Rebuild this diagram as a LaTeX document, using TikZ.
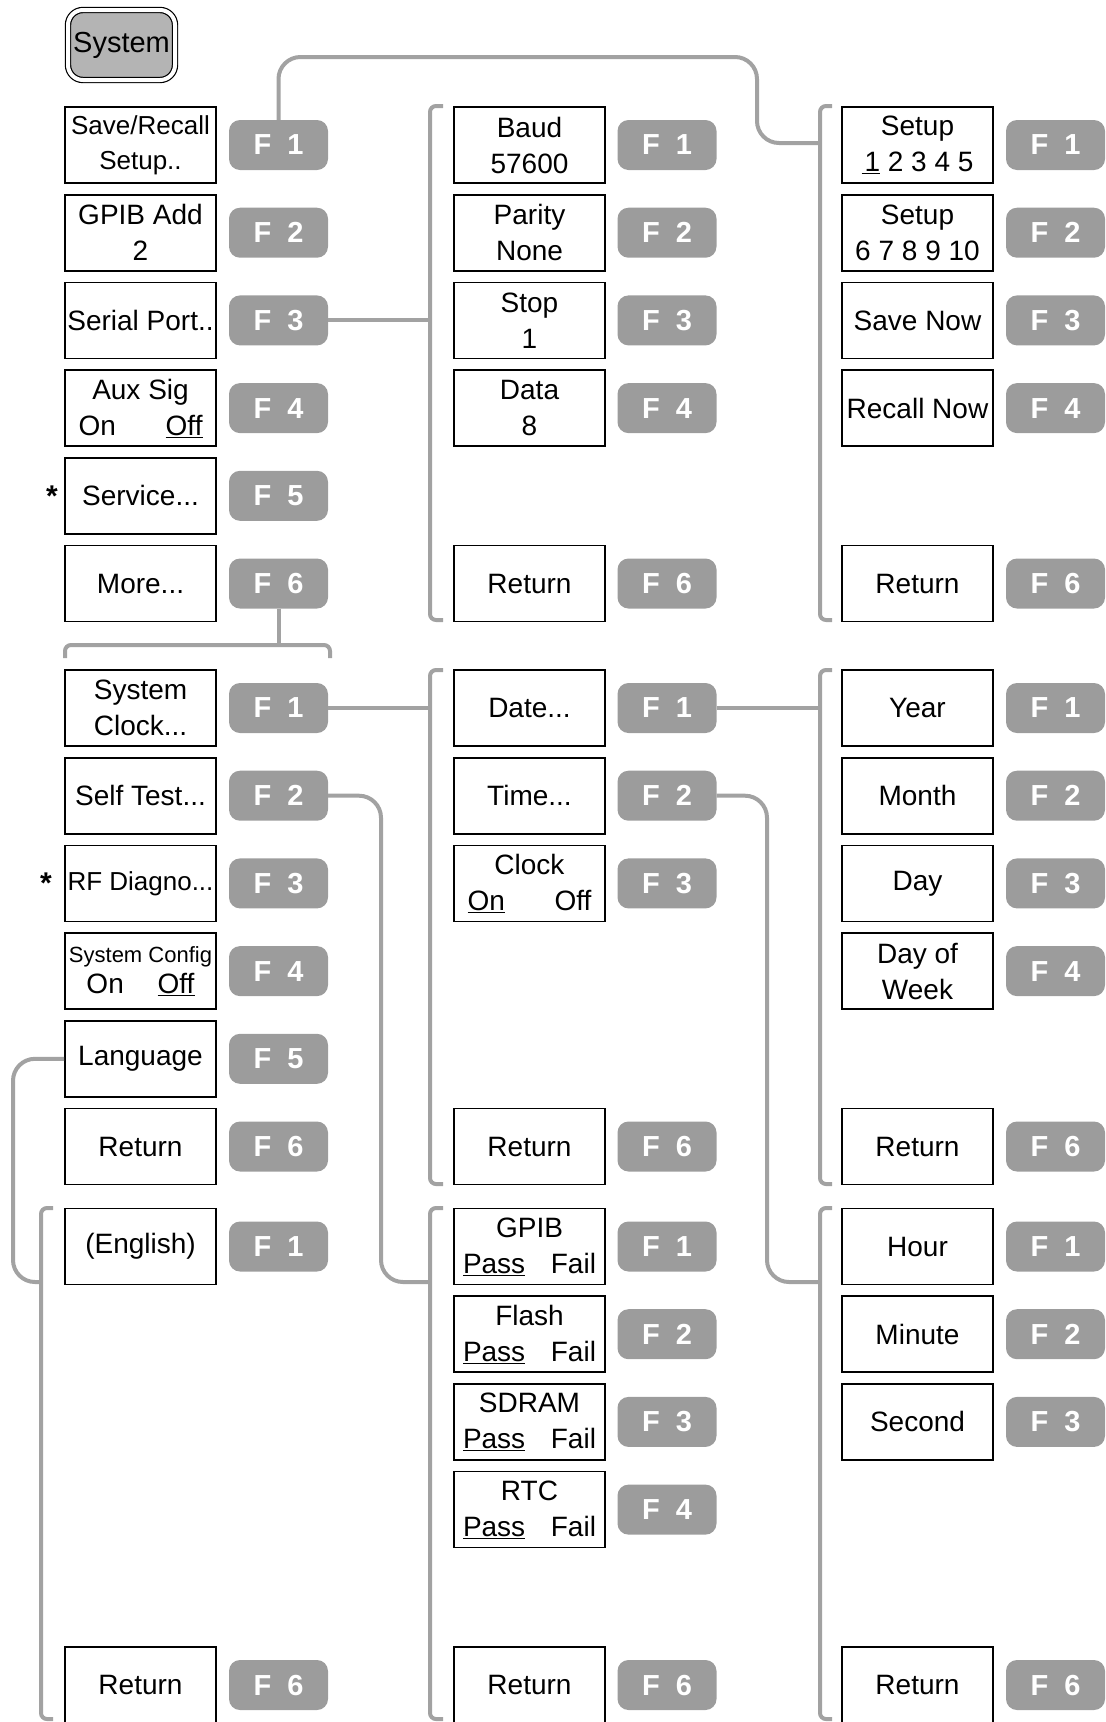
\documentclass[tikz,border=0pt]{standalone}
\usepackage{fontspec}
\setmainfont{Liberation Sans}
\definecolor{tastogrigio}{RGB}{156,156,156}
\definecolor{filogrigio}{RGB}{162,162,162}
\definecolor{sysgrigio}{RGB}{180,180,180}

\begin{document}
\begin{tikzpicture}[x=1pt,y=-1pt,
    voce/.style={draw,line width=1.6pt,minimum width=151pt,minimum height=76pt,inner sep=0pt,align=center,font=\fontsize{28}{36}\selectfont},
    tasto/.style={fill=tastogrigio,rounded corners=11pt,minimum width=99pt,minimum height=50pt,inner sep=0pt,text=white,font=\fontsize{29}{32}\selectfont\bfseries},
    filo/.style={draw=filogrigio,line width=4pt,rounded corners=22pt},
    graffa/.style={draw=filogrigio,line width=4pt,rounded corners=6pt},
    ast/.style={inner sep=0pt,font=\fontsize{30}{30}\selectfont\bfseries}]
  \useasboundingbox (0,0) rectangle (1106,1722);

  % ---- tasto System --------------------------------------------------------
  \node[draw,line width=1.2pt,double,double distance=4pt,fill=sysgrigio,rounded corners=15pt,
        minimum width=107pt,minimum height=70pt,inner sep=0pt,font=\fontsize{29}{32}\selectfont]
        (sysbtn) at (121.5,45) {System};

  % ---- menu System -----------------------------------------------------------
  \node[voce,font=\fontsize{26}{35}\selectfont] (sys1) at (140.5,145.0) {Save/Recall\\Setup..};
  \node[tasto] (sys1k) at (278.5,145.0) {F\hspace{0.55em}1};
  \node[voce] (sys2) at (140.5,232.7) {GPIB Add\\2};
  \node[tasto] (sys2k) at (278.5,232.7) {F\hspace{0.55em}2};
  \node[voce] (sys3) at (140.5,320.4) {Serial Port..};
  \node[tasto] (sys3k) at (278.5,320.4) {F\hspace{0.55em}3};
  \node[voce] (sys4) at (140.5,408.1) {Aux Sig\\\makebox[124pt]{On\hfill\underline{Off}}};
  \node[tasto] (sys4k) at (278.5,408.1) {F\hspace{0.55em}4};
  \node[voce] (sys5) at (140.5,495.8) {Service...};
  \node[tasto] (sys5k) at (278.5,495.8) {F\hspace{0.55em}5};
  \node[voce] (sys6) at (140.5,583.5) {More...};
  \node[tasto] (sys6k) at (278.5,583.5) {F\hspace{0.55em}6};
  \node[ast] (ast1) at (52,495.8) {*};

  % ---- menu Serial Port ------------------------------------------------------
  \node[voce] (ser1) at (529.5,145.0) {Baud\\57600};
  \node[tasto] (ser1k) at (667.0,145.0) {F\hspace{0.55em}1};
  \node[voce] (ser2) at (529.5,232.7) {Parity\\None};
  \node[tasto] (ser2k) at (667.0,232.7) {F\hspace{0.55em}2};
  \node[voce] (ser3) at (529.5,320.4) {Stop\\1};
  \node[tasto] (ser3k) at (667.0,320.4) {F\hspace{0.55em}3};
  \node[voce] (ser4) at (529.5,408.1) {Data\\8};
  \node[tasto] (ser4k) at (667.0,408.1) {F\hspace{0.55em}4};
  \node[voce] (ser6) at (529.5,583.5) {Return};
  \node[tasto] (ser6k) at (667.0,583.5) {F\hspace{0.55em}6};

  % ---- menu Save/Recall ------------------------------------------------------
  \node[voce] (sav1) at (917.5,145.0) {Setup\\\underline{\hspace{3pt}1} 2 3 4 5};
  \node[tasto] (sav1k) at (1055.5,145.0) {F\hspace{0.55em}1};
  \node[voce] (sav2) at (917.5,232.7) {Setup\\6 7 8 9 10};
  \node[tasto] (sav2k) at (1055.5,232.7) {F\hspace{0.55em}2};
  \node[voce] (sav3) at (917.5,320.4) {Save Now};
  \node[tasto] (sav3k) at (1055.5,320.4) {F\hspace{0.55em}3};
  \node[voce] (sav4) at (917.5,408.1) {Recall Now};
  \node[tasto] (sav4k) at (1055.5,408.1) {F\hspace{0.55em}4};
  \node[voce] (sav6) at (917.5,583.5) {Return};
  \node[tasto] (sav6k) at (1055.5,583.5) {F\hspace{0.55em}6};

  % ---- menu More -------------------------------------------------------------
  \node[voce] (mor1) at (140.5,708.0) {System\\Clock...};
  \node[tasto] (mor1k) at (278.5,708.0) {F\hspace{0.55em}1};
  \node[voce] (mor2) at (140.5,795.7) {Self Test...};
  \node[tasto] (mor2k) at (278.5,795.7) {F\hspace{0.55em}2};
  \node[voce,font=\fontsize{26}{33}\selectfont] (mor3) at (140.5,883.4) {RF Diagno...};
  \node[tasto] (mor3k) at (278.5,883.4) {F\hspace{0.55em}3};
  \node[voce] (mor4) at (140.5,971.1) {{\fontsize{22}{26}\selectfont System Config}\\[-5pt]\makebox[108pt]{On\hfill\underline{Off}}};
  \node[tasto] (mor4k) at (278.5,971.1) {F\hspace{0.55em}4};
  \node[voce] (mor5) at (140.5,1058.8) {Language};
  \node[tasto] (mor5k) at (278.5,1058.8) {F\hspace{0.55em}5};
  \node[voce] (mor6) at (140.5,1146.5) {Return};
  \node[tasto] (mor6k) at (278.5,1146.5) {F\hspace{0.55em}6};
  \node[ast] (ast2) at (46,883.4) {*};

  % ---- menu System Clock -----------------------------------------------------
  \node[voce] (clk1) at (529.5,708.0) {Date...};
  \node[tasto] (clk1k) at (667.0,708.0) {F\hspace{0.55em}1};
  \node[voce] (clk2) at (529.5,795.7) {Time...};
  \node[tasto] (clk2k) at (667.0,795.7) {F\hspace{0.55em}2};
  \node[voce] (clk3) at (529.5,883.4) {Clock\\\makebox[124pt]{\underline{On}\hfill Off}};
  \node[tasto] (clk3k) at (667.0,883.4) {F\hspace{0.55em}3};
  \node[voce] (clk6) at (529.5,1146.5) {Return};
  \node[tasto] (clk6k) at (667.0,1146.5) {F\hspace{0.55em}6};

  % ---- menu Date -------------------------------------------------------------
  \node[voce] (dat1) at (917.5,708.0) {Year};
  \node[tasto] (dat1k) at (1055.5,708.0) {F\hspace{0.55em}1};
  \node[voce] (dat2) at (917.5,795.7) {Month};
  \node[tasto] (dat2k) at (1055.5,795.7) {F\hspace{0.55em}2};
  \node[voce] (dat3) at (917.5,883.4) {Day};
  \node[tasto] (dat3k) at (1055.5,883.4) {F\hspace{0.55em}3};
  \node[voce] (dat4) at (917.5,971.1) {Day of\\Week};
  \node[tasto] (dat4k) at (1055.5,971.1) {F\hspace{0.55em}4};
  \node[voce] (dat6) at (917.5,1146.5) {Return};
  \node[tasto] (dat6k) at (1055.5,1146.5) {F\hspace{0.55em}6};

  % ---- menu Language ---------------------------------------------------------
  \node[voce] (lng1) at (140.5,1246.5) {(English)};
  \node[tasto] (lng1k) at (278.5,1246.5) {F\hspace{0.55em}1};
  \node[voce] (lng6) at (140.5,1685.0) {Return};
  \node[tasto] (lng6k) at (278.5,1685.0) {F\hspace{0.55em}6};

  % ---- menu Self Test --------------------------------------------------------
  \node[voce] (tst1) at (529.5,1246.5) {GPIB\\\makebox[133pt]{\underline{Pass}\hfill Fail}};
  \node[tasto] (tst1k) at (667.0,1246.5) {F\hspace{0.55em}1};
  \node[voce] (tst2) at (529.5,1334.2) {Flash\\\makebox[133pt]{\underline{Pass}\hfill Fail}};
  \node[tasto] (tst2k) at (667.0,1334.2) {F\hspace{0.55em}2};
  \node[voce] (tst3) at (529.5,1421.9) {SDRAM\\\makebox[133pt]{\underline{Pass}\hfill Fail}};
  \node[tasto] (tst3k) at (667.0,1421.9) {F\hspace{0.55em}3};
  \node[voce] (tst4) at (529.5,1509.6) {RTC\\\makebox[133pt]{\underline{Pass}\hfill Fail}};
  \node[tasto] (tst4k) at (667.0,1509.6) {F\hspace{0.55em}4};
  \node[voce] (tst6) at (529.5,1685.0) {Return};
  \node[tasto] (tst6k) at (667.0,1685.0) {F\hspace{0.55em}6};

  % ---- menu Time -------------------------------------------------------------
  \node[voce] (tim1) at (917.5,1246.5) {Hour};
  \node[tasto] (tim1k) at (1055.5,1246.5) {F\hspace{0.55em}1};
  \node[voce] (tim2) at (917.5,1334.2) {Minute};
  \node[tasto] (tim2k) at (1055.5,1334.2) {F\hspace{0.55em}2};
  \node[voce] (tim3) at (917.5,1421.9) {Second};
  \node[tasto] (tim3k) at (1055.5,1421.9) {F\hspace{0.55em}3};
  \node[voce] (tim6) at (917.5,1685.0) {Return};
  \node[tasto] (tim6k) at (1055.5,1685.0) {F\hspace{0.55em}6};

  % ---- parentesi dei sottomenu -----------------------------------------------
  \draw[graffa] (443,106) -- (430,106) -- (430,620) -- (443,620);
  \draw[graffa] (832,106) -- (820,106) -- (820,620) -- (832,620);
  \draw[graffa] (65,658) -- (65,645) -- (330,645) -- (330,658);
  \draw[graffa] (443,670) -- (430,670) -- (430,1184) -- (443,1184);
  \draw[graffa] (832,670) -- (820,670) -- (820,1184) -- (832,1184);
  \draw[graffa] (53,1208) -- (41,1208) -- (41,1719) -- (53,1719);
  \draw[graffa] (443,1208) -- (430,1208) -- (430,1719) -- (443,1719);
  \draw[graffa] (832,1208) -- (820,1208) -- (820,1719) -- (832,1719);

  % ---- punti di aggancio -----------------------------------------------------
  \coordinate (gA2) at (430,320.4);
  \coordinate (gA3) at (820,143);
  \coordinate (gB1) at (278.5,645);
  \coordinate (gB2) at (430,708.0);
  \coordinate (gB3) at (820,708.0);
  \coordinate (gC1) at (41,1282);
  \coordinate (gC2) at (430,1282);
  \coordinate (gC3) at (820,1282);
  \coordinate (k1) at (757,57);
  \coordinate (k5) at (381,1282);
  \coordinate (k6) at (767,1282);
  \coordinate (k7) at (13,1282);

  % ---- collegamenti ----------------------------------------------------------
  \draw[filo] (sys1k.north) |- (k1) |- (gA3);
  \draw[filo] (sys3k.east) -- (gA2);
  \draw[filo] (sys6k.south) -- (gB1);
  \draw[filo] (mor1k.east) -- (gB2);
  \draw[filo] (clk1k.east) -- (gB3);
  \draw[filo] (mor2k.east) -| (k5) -- (gC2);
  \draw[filo] (clk2k.east) -| (k6) -- (gC3);
  \draw[filo] (mor5.west) -| (k7) -- (gC1);
\end{tikzpicture}
\end{document}
